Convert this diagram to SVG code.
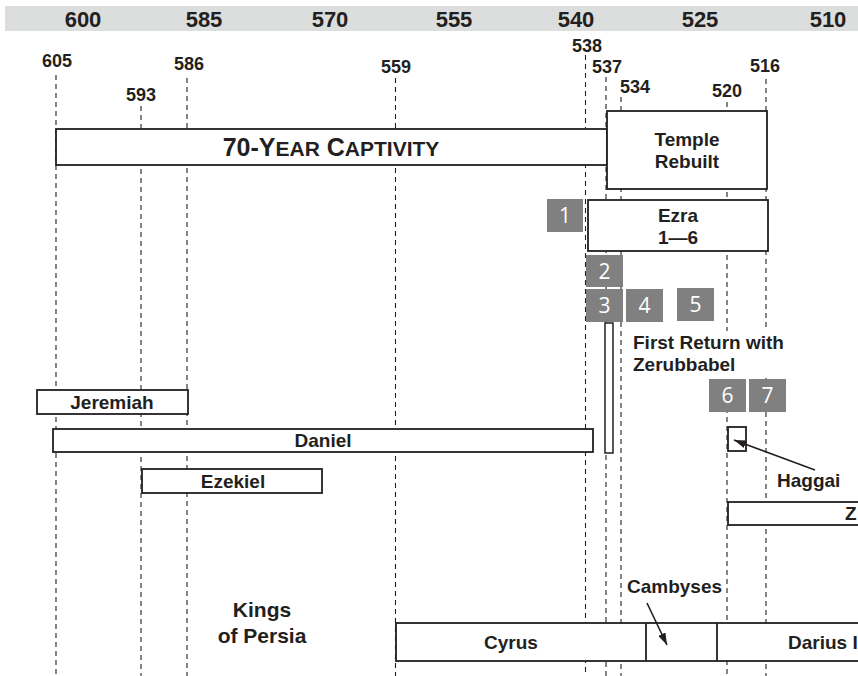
<svg xmlns="http://www.w3.org/2000/svg" width="858" height="676" viewBox="0 0 858 676">
<defs>
<style>
.hdr{font-family:"Liberation Sans",Arial,sans-serif;font-weight:bold;font-size:22px;fill:#231f20;text-anchor:middle}
.yr{font-family:"Liberation Sans",Arial,sans-serif;font-weight:bold;font-size:18px;fill:#231f20;text-anchor:middle}
.t{font-family:"Liberation Sans",Arial,sans-serif;font-weight:bold;font-size:19px;fill:#231f20;text-anchor:middle}
.tl{font-family:"Liberation Sans",Arial,sans-serif;font-weight:bold;font-size:19px;fill:#231f20}
.box{fill:#fff;stroke:#231f20;stroke-width:1.8}
.dash{stroke:#231f20;stroke-width:1.1;stroke-dasharray:5 4;fill:none}
.badge{fill:#808080}
.bn{font-family:"Open Sans","Liberation Sans",sans-serif;font-size:21px;fill:#fff;text-anchor:middle}
.arr{stroke:#231f20;stroke-width:1.6;fill:none}
</style>
<marker id="ah" viewBox="0 0 12 8" refX="12" refY="4" markerWidth="12" markerHeight="8" markerUnits="userSpaceOnUse" orient="auto">
<path d="M0,0 L12,4 L0,8 Z" fill="#231f20"/>
</marker>
</defs>
<rect width="858" height="676" fill="#fff"/>
<g id="header">
<rect x="5" y="6" width="853" height="25" fill="#dcdddd"/>
<text class="hdr" x="83" y="27">600</text>
<text class="hdr" x="204" y="27">585</text>
<text class="hdr" x="330" y="27">570</text>
<text class="hdr" x="454" y="27">555</text>
<text class="hdr" x="576" y="27">540</text>
<text class="hdr" x="700" y="27">525</text>
<text class="hdr" x="828" y="27">510</text>
</g>
<g id="year-labels">
<text class="yr" x="57" y="67">605</text>
<text class="yr" x="141" y="101">593</text>
<text class="yr" x="189" y="70">586</text>
<text class="yr" x="396" y="73">559</text>
<text class="yr" x="587" y="52">538</text>
<text class="yr" x="607" y="73">537</text>
<text class="yr" x="635" y="93">534</text>
<text class="yr" x="727" y="97">520</text>
<text class="yr" x="765" y="72">516</text>
</g>
<g id="gridlines">
<line class="dash" x1="56" y1="75" x2="56" y2="676"/>
<line class="dash" x1="141" y1="106" x2="141" y2="676"/>
<line class="dash" x1="187" y1="78" x2="187" y2="676"/>
<line class="dash" x1="395.5" y1="78" x2="395.5" y2="676"/>
<line class="dash" x1="585.5" y1="55" x2="585.5" y2="676"/>
<line class="dash" x1="606" y1="77" x2="606" y2="676"/>
<line class="dash" x1="621" y1="97" x2="621" y2="676"/>
<line class="dash" x1="727" y1="102" x2="727" y2="676"/>
<line class="dash" x1="766" y1="79" x2="766" y2="676"/>
</g>
<g id="captivity">
<rect class="box" x="56" y="129" width="551" height="36"/>
<text class="t" x="331" y="156" style="font-size:25px">70-Y<tspan style="font-size:21px">EAR</tspan> C<tspan style="font-size:21px">APTIVITY</tspan></text>
</g>
<g id="temple">
<rect class="box" x="607" y="111" width="160" height="78"/>
<text class="t" x="687" y="146">Temple</text>
<text class="t" x="687" y="168">Rebuilt</text>
</g>
<g id="ezra">
<rect class="box" x="588" y="200" width="180" height="51"/>
<text class="t" x="678" y="222">Ezra</text>
<text class="t" x="678" y="244">1—6</text>
</g>
<g id="badges">
<rect class="badge" x="547" y="199" width="36" height="33"/><text class="bn" x="565" y="223">1</text>
<rect class="badge" x="586" y="255" width="37" height="32"/><text class="bn" x="604.5" y="279">2</text>
<rect class="badge" x="586" y="289" width="37" height="33"/><text class="bn" x="604.5" y="313">3</text>
<rect class="badge" x="626" y="289" width="37" height="33"/><text class="bn" x="644.5" y="313">4</text>
<rect class="badge" x="677" y="288" width="37" height="33"/><text class="bn" x="695.5" y="312">5</text>
<rect class="badge" x="709" y="379" width="37" height="33"/><text class="bn" x="727.5" y="403">6</text>
<rect class="badge" x="749" y="379" width="37" height="33"/><text class="bn" x="767.5" y="403">7</text>
</g>
<g id="first-return">
<rect x="629" y="331" width="170" height="47" fill="#fff"/>
<rect class="box" x="605" y="323" width="8" height="130" style="stroke-width:1.5"/>
<text class="tl" x="633" y="349">First Return with</text>
<text class="tl" x="633" y="371">Zerubbabel</text>
</g>
<g id="jeremiah">
<rect class="box" x="37" y="390" width="151" height="24"/>
<text class="t" x="112" y="409">Jeremiah</text>
</g>
<g id="daniel">
<rect class="box" x="53" y="429" width="540" height="23"/>
<text class="t" x="323" y="447">Daniel</text>
</g>
<g id="ezekiel">
<rect class="box" x="142" y="469" width="180" height="24"/>
<text class="t" x="233" y="488">Ezekiel</text>
</g>
<g id="haggai">
<rect class="box" x="728" y="427" width="18" height="24"/>
<text class="tl" x="777" y="487">Haggai</text>
</g>
<g id="zechariah">
<rect class="box" x="728" y="502" width="140" height="23"/>
<text class="tl" x="845" y="520">Z</text>
</g>
<g id="kings">
<text class="t" x="262" y="617" style="font-size:21px">Kings</text>
<text class="t" x="262" y="643" style="font-size:21px">of Persia</text>
</g>
<g id="persia-kings">
<rect class="box" x="396" y="623" width="475" height="38"/>
<line x1="646" y1="623" x2="646" y2="661" stroke="#231f20" stroke-width="1.8"/>
<line x1="717" y1="623" x2="717" y2="661" stroke="#231f20" stroke-width="1.8"/>
<text class="t" x="511" y="649">Cyrus</text>
<text class="tl" x="788" y="649">Darius I</text>
<text class="tl" x="627" y="593">Cambyses</text>
</g>
<g id="connectors">
<line class="arr" x1="815" y1="470" x2="734" y2="440" marker-end="url(#ah)"/>
<line class="arr" x1="647" y1="603" x2="667" y2="645" marker-end="url(#ah)"/>
</g>
</svg>
